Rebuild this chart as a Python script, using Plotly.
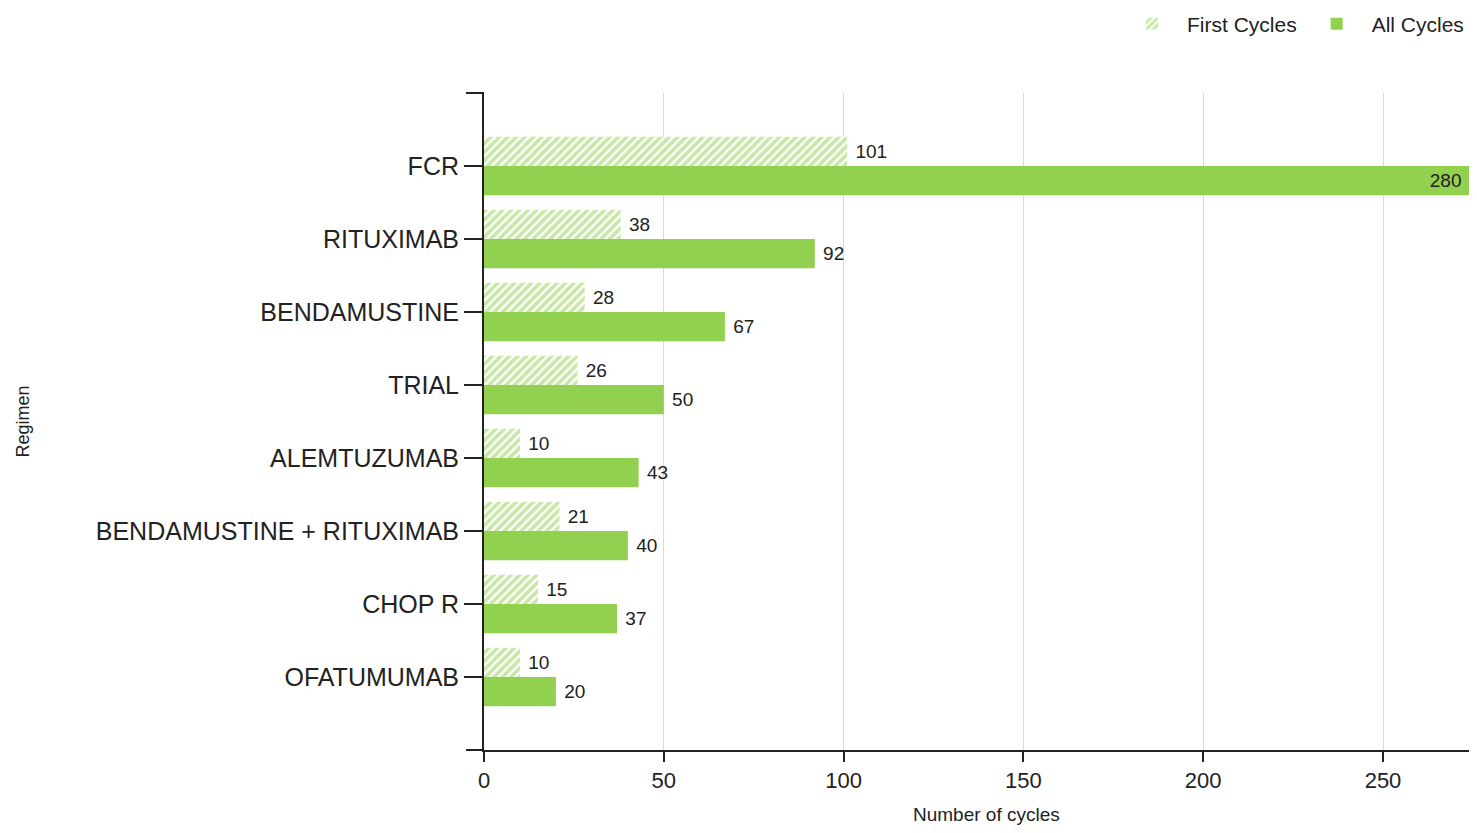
import plotly.graph_objects as go

regimens = ["FCR", "RITUXIMAB", "BENDAMUSTINE", "TRIAL", "ALEMTUZUMAB",
            "BENDAMUSTINE + RITUXIMAB", "CHOP R", "OFATUMUMAB"]
first_cycles = [101, 38, 28, 26, 10, 21, 15, 10]
all_cycles = [280, 92, 67, 50, 43, 40, 37, 20]
x_ticks = [0, 50, 100, 150, 200, 250]

GREEN = "#92D050"
FONT = "Arial, Liberation Sans, sans-serif"
TXT = "#222222"

# page has an 8px body margin; figure fills the rest of the 1477x833 window
W, H = 1461, 817
L, R, T, B = 476, 0, 85, 75
PW, PH = W - L - R, H - T - B
X_MAX = PW / 3.596  # scale matched to reference tick spacing


def positions(vals):
    return ["inside" if v > X_MAX else "outside" for v in vals]


def templates(vals):
    return ["%{text}" + "\u00a0" * 5 if v > X_MAX else "\u00a0%{text}" for v in vals]


fig = go.Figure()
fig.add_trace(go.Bar(
    name="First Cycles", y=regimens, x=first_cycles, orientation="h",
    marker=dict(color="white", line=dict(width=0),
                pattern=dict(shape="/", fgcolor=GREEN, bgcolor="white", size=6, solidity=0.6)),
    text=first_cycles, texttemplate=templates(first_cycles), textposition=positions(first_cycles),
    insidetextanchor="end",
    textfont=dict(size=19, color=TXT, family=FONT), cliponaxis=True,
))
fig.add_trace(go.Bar(
    name="All Cycles", y=regimens, x=all_cycles, orientation="h",
    marker=dict(color=GREEN, line=dict(width=0)),
    text=all_cycles, texttemplate=templates(all_cycles), textposition=positions(all_cycles),
    insidetextanchor="end",
    textfont=dict(size=19, color=TXT, family=FONT), cliponaxis=True,
))

fig.update_layout(
    width=W, height=H,
    margin=dict(l=L, r=R, t=T, b=B, pad=0, autoexpand=False),
    paper_bgcolor="white", plot_bgcolor="white",
    barmode="group", bargap=0.2, bargroupgap=0,
    font=dict(family=FONT, color=TXT),
    legend=dict(orientation="h", xref="paper", x=1, xanchor="right",
                yref="container", y=1 - 16 / H, yanchor="middle",
                font=dict(size=21, color=TXT, family=FONT), traceorder="normal",
                itemwidth=60, bgcolor="rgba(0,0,0,0)"),
    xaxis=dict(range=[0, X_MAX], tickvals=x_ticks, showgrid=True, gridcolor="#d9d9d9", gridwidth=1,
               zeroline=False, showline=True, linecolor="#222", linewidth=2,
               ticks="outside", ticklen=10, tickwidth=2, tickcolor="#222",
               tickfont=dict(size=22, color=TXT, family=FONT), fixedrange=True),
    yaxis=dict(type="category", categoryorder="array", categoryarray=regimens,
               range=[8, -1], showgrid=False, zeroline=False,
               showline=True, linecolor="#222", linewidth=2,
               ticks="outside", ticklen=18, tickwidth=2, tickcolor="#222",
               tickfont=dict(size=25, color=TXT, family=FONT), fixedrange=True),
    annotations=[
        dict(text="Number of cycles", xref="paper", yref="paper",
             x=(978 - L) / PW, y=-(806 - (H - B)) / PH, xanchor="center", yanchor="middle",
             showarrow=False, font=dict(size=19, color=TXT, family=FONT)),
        dict(text="Regimen", xref="paper", yref="paper",
             x=(14 - L) / PW, y=0.5, xanchor="center", yanchor="middle", textangle=-90,
             showarrow=False, font=dict(size=18, color=TXT, family=FONT)),
    ],
    shapes=[
        dict(type="line", xref="paper", yref="paper", xsizemode="pixel", xanchor=0,
             x0=-18, x1=0, y0=1, y1=1, line=dict(color="#222", width=2)),
        dict(type="line", xref="paper", yref="paper", xsizemode="pixel", xanchor=0,
             x0=-18, x1=0, y0=0, y1=0, line=dict(color="#222", width=2)),
    ],
)

fig.write_html("out.html")
